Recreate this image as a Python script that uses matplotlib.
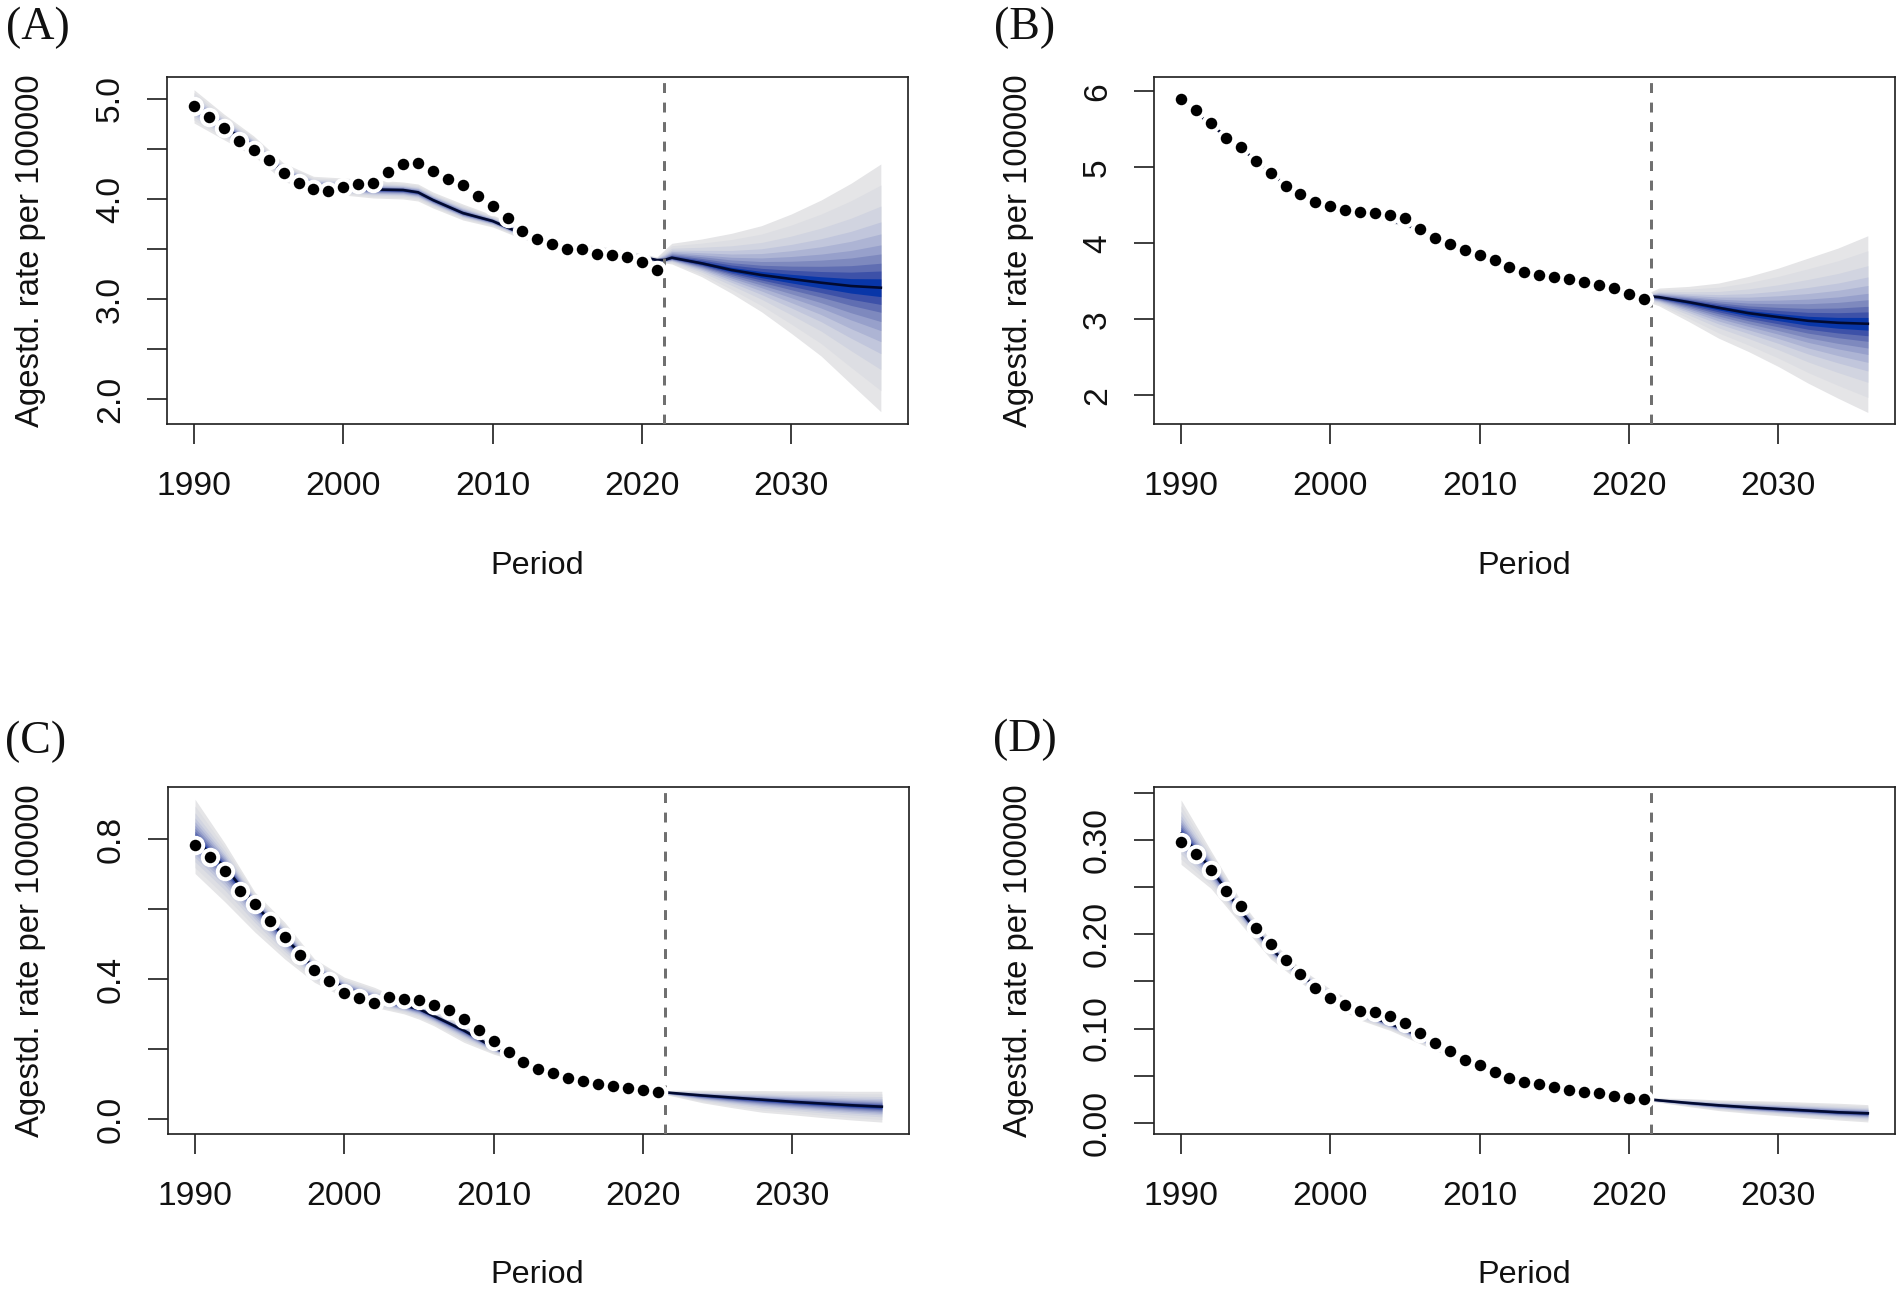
"""
Age standardised rate projections, four panels, fan bands after 2021
"""

import numpy as np
import matplotlib
matplotlib.use("Agg")
import matplotlib.pyplot as plt

plt.rcParams['font.family'] = ['Liberation Sans', 'DejaVu Sans']

W, H = 1902, 1290

obs_years = list(range(1990, 2022))

# years where the fan edges were read
band_years = [1990, 1992, 1994, 1996, 1998, 2000, 2002, 2004, 2005, 2006, 2008, 2010, 2012, 2014,
              2016, 2018, 2020, 2021, 2021.5, 2022, 2024, 2026, 2028, 2030, 2032, 2034, 2036]

# share of the outer half width covered by each band, read at the right edge of panel A
band_shares = [1.0, 0.83, 0.66, 0.532, 0.435, 0.346, 0.273, 0.198, 0.135, 0.072]
band_colors = ['#E5E5E7', '#DDDEE3', '#D1D4E0', '#C1C6DC', '#ADB4D4', '#97A0CB',
               '#7E89BE', '#606EB2', '#3D51A8', '#0836A8']

obs_a = [4.927, 4.823, 4.713, 4.577, 4.493, 4.387, 4.257, 4.163, 4.10, 4.077, 4.117, 4.15, 4.16, 4.267,
         4.347, 4.357, 4.28, 4.2, 4.137, 4.03, 3.93, 3.813, 3.683, 3.597, 3.547, 3.5, 3.5, 3.453,
         3.437, 3.42, 3.37, 3.293]
med_a = [4.927, 4.72, 4.53, 4.27, 4.14, 4.115, 4.095, 4.09, 4.067, 3.99, 3.86, 3.78, 3.65, 3.56,
         3.51, 3.47, 3.42, 3.39, 3.39, 3.413, 3.357, 3.29, 3.24, 3.2, 3.163, 3.13, 3.113]
up_a = [5.093, 4.85, 4.63, 4.36, 4.227, 4.21, 4.19, 4.17, 4.15, 4.07, 3.95, 3.84, 3.71, 3.60,
        3.55, 3.51, 3.455, 3.42, 3.49, 3.557, 3.6, 3.657, 3.733, 3.85, 3.99, 4.157, 4.35]
low_a = [4.76, 4.593, 4.43, 4.18, 4.06, 4.04, 4.01, 4.0, 3.98, 3.91, 3.79, 3.72, 3.6, 3.53,
         3.49, 3.45, 3.40, 3.37, 3.36, 3.35, 3.223, 3.057, 2.873, 2.657, 2.43, 2.15, 1.873]

obs_b = [5.899, 5.759, 5.579, 5.382, 5.268, 5.088, 4.921, 4.75, 4.645, 4.548, 4.496, 4.434, 4.408, 4.399,
         4.373, 4.333, 4.193, 4.07, 3.987, 3.906, 3.84, 3.774, 3.686, 3.616, 3.585, 3.554, 3.528, 3.489,
         3.445, 3.405, 3.326, 3.265]
med_b = [5.9, 5.56, 5.26, 4.92, 4.62, 4.48, 4.39, 4.30, 4.25, 4.18, 3.97, 3.83, 3.69, 3.58,
         3.52, 3.44, 3.33, 3.27, 3.30, 3.291, 3.225, 3.151, 3.08, 3.028, 2.979, 2.953, 2.94]
up_b = [5.93, 5.59, 5.29, 4.95, 4.65, 4.50, 4.41, 4.33, 4.28, 4.20, 3.99, 3.84, 3.70, 3.59,
        3.53, 3.45, 3.34, 3.28, 3.366, 3.41, 3.432, 3.476, 3.563, 3.673, 3.805, 3.937, 4.099]
low_b = [5.87, 5.53, 5.23, 4.89, 4.59, 4.46, 4.37, 4.27, 4.22, 4.15, 3.95, 3.82, 3.68, 3.57,
         3.51, 3.43, 3.32, 3.26, 3.212, 3.177, 2.97, 2.751, 2.575, 2.378, 2.158, 1.96, 1.772]

obs_c = [0.784, 0.748, 0.708, 0.652, 0.615, 0.566, 0.522, 0.468, 0.427, 0.395, 0.362, 0.347, 0.333, 0.349,
         0.344, 0.341, 0.326, 0.312, 0.286, 0.254, 0.224, 0.193, 0.164, 0.143, 0.131, 0.118, 0.109, 0.101,
         0.094, 0.089, 0.084, 0.079]
med_c = [0.80, 0.72, 0.615, 0.52, 0.43, 0.375, 0.345, 0.325, 0.315, 0.295, 0.254, 0.205, 0.165, 0.131,
         0.109, 0.094, 0.084, 0.079, 0.077, 0.075, 0.068, 0.062, 0.056, 0.05, 0.045, 0.04, 0.036]
up_c = [0.914, 0.788, 0.649, 0.563, 0.458, 0.406, 0.377, 0.34, 0.33, 0.31, 0.27, 0.215, 0.17, 0.135,
        0.112, 0.098, 0.087, 0.082, 0.081, 0.083, 0.083, 0.082, 0.082, 0.081, 0.081, 0.08, 0.08]
low_c = [0.702, 0.621, 0.535, 0.458, 0.391, 0.348, 0.32, 0.301, 0.286, 0.267, 0.22, 0.186, 0.16, 0.128,
         0.107, 0.092, 0.082, 0.077, 0.071, 0.066, 0.047, 0.033, 0.02, 0.013, 0.005, -0.002, -0.008]

obs_d = [0.298, 0.285, 0.268, 0.246, 0.23, 0.207, 0.19, 0.173, 0.158, 0.143, 0.132, 0.125, 0.119, 0.118,
         0.113, 0.106, 0.095, 0.085, 0.076, 0.067, 0.061, 0.054, 0.0475, 0.043, 0.041, 0.0376, 0.035, 0.033,
         0.031, 0.0287, 0.0266, 0.0248]
med_d = [0.307, 0.27, 0.225, 0.185, 0.157, 0.134, 0.117, 0.105, 0.099, 0.091, 0.073, 0.06, 0.047, 0.0405,
         0.0345, 0.0305, 0.0264, 0.0247, 0.0245, 0.0237, 0.0209, 0.0184, 0.0163, 0.0145, 0.0128, 0.011, 0.0099]
up_d = [0.343, 0.289, 0.236, 0.194, 0.164, 0.142, 0.125, 0.112, 0.107, 0.098, 0.077, 0.062, 0.048, 0.041,
        0.035, 0.031, 0.0268, 0.025, 0.0262, 0.0262, 0.0255, 0.0241, 0.0234, 0.0227, 0.0216, 0.0206, 0.0191]
low_d = [0.2745, 0.249, 0.211, 0.174, 0.149, 0.126, 0.109, 0.098, 0.091, 0.084, 0.07, 0.058, 0.046, 0.04,
         0.034, 0.03, 0.0262, 0.0245, 0.0227, 0.0216, 0.017, 0.0128, 0.0099, 0.0074, 0.005, 0.0028, 0.0007]

x_ticks = [1990, 2000, 2010, 2020, 2030]

ticks_a = [2.0, 2.5, 3.0, 3.5, 4.0, 4.5, 5.0]
labels_a = ['2.0', '', '3.0', '', '4.0', '', '5.0']
ticks_b = [2, 3, 4, 5, 6]
labels_b = ['2', '3', '4', '5', '6']
ticks_c = [0.0, 0.2, 0.4, 0.6, 0.8]
labels_c = ['0.0', '', '0.4', '', '0.8']
ticks_d = [0.0, 0.05, 0.10, 0.15, 0.20, 0.25, 0.30, 0.35]
labels_d = ['0.00', '', '0.10', '', '0.20', '', '0.30', '']


def to_pt(px):
    return px * 72 / 100


def draw_panel(fig, box, xlim, ylim, obs, med, up, low, ticks, labels):
    """box: left, top, right, bottom in pixels"""
    left, top, right, bottom = box
    ax = fig.add_axes([left / W, 1 - bottom / H, (right - left) / W, (bottom - top) / H])

    med = np.array(med)
    up = np.array(up)
    low = np.array(low)

    # outer band first, the darker ones on top
    for share, color in zip(band_shares, band_colors):
        ax.fill_between(band_years, med - share * (med - low), med + share * (up - med),
                        color=color, linewidth=0, zorder=1)
    ax.plot(band_years, med, color='#020A30', lw=to_pt(2.6), zorder=2)

    ax.axvline(2021.5, color='#707070', lw=to_pt(3), linestyle=(0, (3.3, 3.2)), zorder=3)

    # white ring under each black dot
    ax.plot(obs_years, obs, 'o', color='white', ms=to_pt(19.5), mew=0, zorder=4)
    ax.plot(obs_years, obs, 'o', color='black', ms=to_pt(11.5), mew=0, zorder=5)

    ax.set_xlim(*xlim)
    ax.set_ylim(*ylim)
    ax.set_xticks(x_ticks)
    ax.set_yticks(ticks)
    ax.set_yticklabels(labels, rotation=90, va='center')
    ax.tick_params(axis='both', length=to_pt(20), width=to_pt(1.7), color='#222222',
                   labelsize=24.2, labelcolor='#111111')
    ax.tick_params(axis='x', pad=to_pt(27))
    ax.tick_params(axis='y', pad=to_pt(21))
    for spine in ax.spines.values():
        spine.set_linewidth(to_pt(1.7))
        spine.set_color('#222222')
    return ax


def put_text(fig, x, y, s, **kw):
    fig.text(x / W, 1 - y / H, s, ha='center', va='center', **kw)


def main():
    fig = plt.figure(figsize=(W / 100, H / 100), dpi=100)

    draw_panel(fig, (167, 77, 908, 424), (1988.19, 2037.82), (1.75, 5.22),
               obs_a, med_a, up_a, low_a, ticks_a, labels_a)
    draw_panel(fig, (1154, 77, 1895, 424), (1988.19, 2037.82), (1.62, 6.19),
               obs_b, med_b, up_b, low_b, ticks_b, labels_b)
    draw_panel(fig, (168, 787, 909, 1134), (1988.19, 2037.82), (-0.042, 0.949),
               obs_c, med_c, up_c, low_c, ticks_c, labels_c)
    draw_panel(fig, (1154, 787, 1895, 1134), (1988.19, 2037.82), (-0.0121, 0.3567),
               obs_d, med_d, up_d, low_d, ticks_d, labels_d)

    # axis titles and panel letters
    for x_lab, y_lab in [(31, 251), (1019, 251), (31, 961), (1019, 961)]:
        put_text(fig, x_lab, y_lab, 'Agestd. rate per 100000', fontsize=23.7, rotation=90, color='#111111')
    for x_c, y_c in [(537, 566), (1524, 566), (537, 1275), (1524, 1275)]:
        put_text(fig, x_c, y_c, 'Period', fontsize=23.3, color='#111111')

    letters = [('(A)', 38, 28), ('(B)', 1025, 28), ('(C)', 36, 742), ('(D)', 1025, 740)]
    for s, x_c, y_c in letters:
        put_text(fig, x_c, y_c, s, fontsize=33, family=['Liberation Serif', 'DejaVu Serif'], color='#111111')

    fig.savefig('out.png', dpi=100, facecolor='white')
    plt.close(fig)


if __name__ == "__main__":
    main()
